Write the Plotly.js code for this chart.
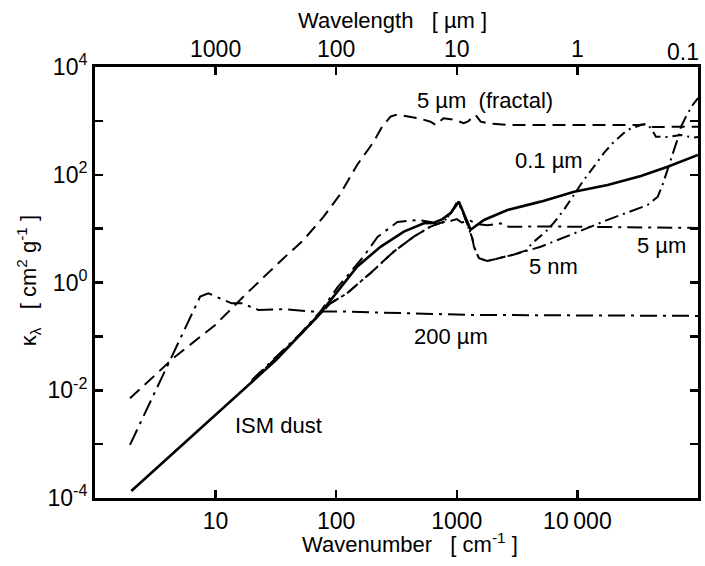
<!DOCTYPE html>
<html>
<head>
<meta charset="utf-8">
<script src="https://cdn.plot.ly/plotly-3.0.1.min.js"></script>
<style>html,body{margin:0;padding:0;background:#fff}#chart{width:705px;height:566px}</style>
</head>
<body>
<div id="chart"></div>
<script>
// ---- data (wavenumber in cm^-1, kappa in cm^2 g^-1) ----
const ismNu = [2, 10, 32, 74, 149, 233, 364, 533, 641, 760, 889, 1041, 1302, 1680, 2630, 4966, 9397, 17800, 33600, 56000, 100000];
const ismK  = [1.35e-4, 3.6e-3, 0.037, 0.27, 1.97, 4.6, 8.8, 12.6, 12.8, 15, 19.5, 31.7, 9.5, 14.5, 22.2, 31.7, 48.5, 64.7, 95, 141, 233];

const fractalNu = [1.95, 4.61, 9.93, 18.2, 36.6, 53.7, 78.7, 108, 149, 205, 240, 282, 309, 361, 482, 605, 667, 776, 977, 1138, 1230, 1432, 1578, 1803, 2630, 31600, 37000, 40700, 100000];
const fractalK  = [7.1e-3, 0.042, 0.163, 0.634, 2.82, 6.17, 16.7, 43.7, 152, 411, 780, 1197, 1288, 1247, 1117, 966, 840, 1117, 1040, 902, 966, 1288, 966, 902, 840, 840, 871, 771, 780];

const g200Nu = [1.95, 3.82, 7.45, 8.7, 13.6, 16.5, 22.7, 37.8, 59, 108, 1302, 100000];
const g200K  = [9.7e-4, 0.023, 0.55, 0.63, 0.41, 0.41, 0.31, 0.32, 0.29, 0.29, 0.25, 0.24];

const g5umNu = [20, 50, 74, 102, 168, 220, 322, 472, 606, 700, 800, 900, 1000, 1100, 1300, 1500, 1800, 2300, 2700, 3500, 5000, 100000];
const g5umK  = [0.0155, 0.11, 0.29, 0.8, 3.0, 7.0, 13.3, 14.5, 13.3, 12, 13.5, 14, 15, 13, 14, 12, 11.5, 12.5, 10.8, 10.8, 11, 10.3];

const g01Nu = [20, 50, 89.5, 123, 192, 300, 440, 606, 782, 900, 1000, 1050, 1146, 1260, 1345, 1388, 1527, 1792, 2311, 2890, 3720, 4345, 5470, 6370, 7710, 9340, 11300, 13700, 16600, 20100, 26000, 33600, 37000, 40700, 44800, 56300, 72300, 90800, 100000];
const g01K  = [0.0148, 0.105, 0.41, 0.63, 1.49, 3.74, 7.1, 10.9, 13.5, 20, 30, 28, 18, 10.2, 6.6, 4.6, 2.82, 2.51, 2.9, 3.25, 3.9, 5.7, 8.8, 12.8, 22.2, 42, 80, 141, 254, 411, 678, 840, 870, 738, 509, 502, 547, 488, 500];

const g5nmNu = [20, 50, 89.5, 123, 192, 300, 440, 606, 782, 900, 1000, 1050, 1146, 1260, 1345, 1388, 1527, 1792, 2311, 2890, 4966, 9390, 17800, 38200, 46300, 50800, 57400, 63100, 68200, 72300, 79500, 90300, 100000];
const g5nmK  = [0.0148, 0.105, 0.41, 0.63, 1.49, 3.74, 7.1, 10.9, 13.5, 20, 30, 28, 18, 10.2, 6.6, 4.6, 2.82, 2.51, 2.9, 3.25, 4.6, 8.2, 14.5, 27.5, 39, 64.7, 152, 268, 482, 780, 1197, 1970, 2660];

const xTickVals = [10, 100, 1000, 10000];
const xTickText = ['10', '100', '1000', '10\u2009000'];
const topTickVals = [1000, 100, 10, 1, 0.1];
const topTickText = ['1000', '100', '10', '1', '0.1'];
const yTickVals = [1e-4, 1e-2, 1, 100, 1e4];
const yTickText = ['10<sup>-4</sup>', '10<sup>-2</sup>', '10<sup>0</sup>', '10<sup>2</sup>', '10<sup>4</sup>'];
const yMinorVals = [1e-3, 1e-1, 10, 1000];

// ---- figure ----
const FONT = 'Liberation Sans, Arial, Helvetica, sans-serif';
const FS = 23;
function tr(x, y, dash, w) {
  return {x: x, y: y, type: 'scatter', mode: 'lines', hoverinfo: 'skip', showlegend: false,
          line: {color: '#000', width: w, dash: dash}};
}
const traces = [
  tr(g200Nu, g200K, '17px,6px,3px,6px', 2),
  tr(fractalNu, fractalK, '13px,7px', 2),
  tr(g5umNu, g5umK, '15px,6px,3px,6px', 2),
  tr(g01Nu, g01K, '10px,5px,2px,5px', 2),
  tr(g5nmNu, g5nmK, '14px,5px,2px,5px', 2),
  tr(ismNu, ismK, 'solid', 2.6)
];
// transparent trace on the wavelength axis so it is laid out
traces.push({x: ismNu.map(v => 1e4 / v), y: ismK, xaxis: 'x2', type: 'scatter', mode: 'lines',
             hoverinfo: 'skip', showlegend: false, opacity: 0, line: {width: 0}});

function ann(text, x, y, extra) {
  return Object.assign({text: text, x: x, y: y, xref: 'paper', yref: 'paper', showarrow: false,
                        xanchor: 'center', yanchor: 'middle', font: {family: FONT, size: 22, color: '#000'}}, extra || {});
}

const nTop = topTickVals.length;
const layout = {
  width: 705, height: 566,
  margin: {l: 95, r: 7, t: 67, b: 68, pad: 0},
  paper_bgcolor: '#fff', plot_bgcolor: '#fff',
  font: {family: FONT, size: FS, color: '#000'},
  xaxis: {type: 'log', range: [0, 5], showgrid: false, zeroline: false,
          showline: true, linecolor: '#000', linewidth: 3, mirror: 'ticks',
          ticks: 'inside', ticklen: 8, tickwidth: 2.5, tickcolor: '#000',
          tickvals: xTickVals, ticktext: xTickText, tickfont: {family: FONT, size: FS, color: '#000'}},
  xaxis2: {type: 'log', range: [4, -1], overlaying: 'x', side: 'top', anchor: 'y',
           showgrid: false, zeroline: false, showline: false, ticks: '', ticklabelstandoff: 4,
           tickvals: topTickVals.slice(0, nTop - 1), ticktext: topTickText.slice(0, nTop - 1),
           tickfont: {family: FONT, size: FS, color: '#000'}},
  yaxis: {type: 'log', range: [-4, 4], showgrid: false, zeroline: false,
          showline: true, linecolor: '#000', linewidth: 3, mirror: 'ticks',
          ticks: 'inside', ticklen: 8, tickwidth: 2.5, tickcolor: '#000',
          minor: {tickvals: yMinorVals, ticks: 'inside', ticklen: 8, tickwidth: 2.5, tickcolor: '#000', showgrid: false},
          tickvals: yTickVals, ticktext: yTickText, tickfont: {family: FONT, size: FS, color: '#000'}},
  annotations: [
    ann('Wavelength &nbsp; [ µm ]', 0.494, 1.109),
    ann('Wavenumber &nbsp; [ cm<sup>-1</sup> ]', 0.522, -0.104),
    ann('κ<sub>λ</sub> &nbsp; [ cm<sup>2</sup> g<sup>-1</sup> ]', -0.111, 0.503, {textangle: -90}),
    ann(topTickText[nTop - 1], 1.005, 1.035, {xanchor: 'right', font: {family: FONT, size: FS, color: '#000'}}),
    ann('5 µm &nbsp;(fractal)', 0.647, 0.923),
    ann('0.1 µm', 0.753, 0.782),
    ann('5 nm', 0.761, 0.536),
    ann('5 µm', 0.939, 0.585),
    ann('200 µm', 0.590, 0.374),
    ann('ISM dust', 0.305, 0.168)
  ]
};

Plotly.newPlot('chart', traces, layout, {staticPlot: true, displayModeBar: false});
</script>
</body>
</html>
